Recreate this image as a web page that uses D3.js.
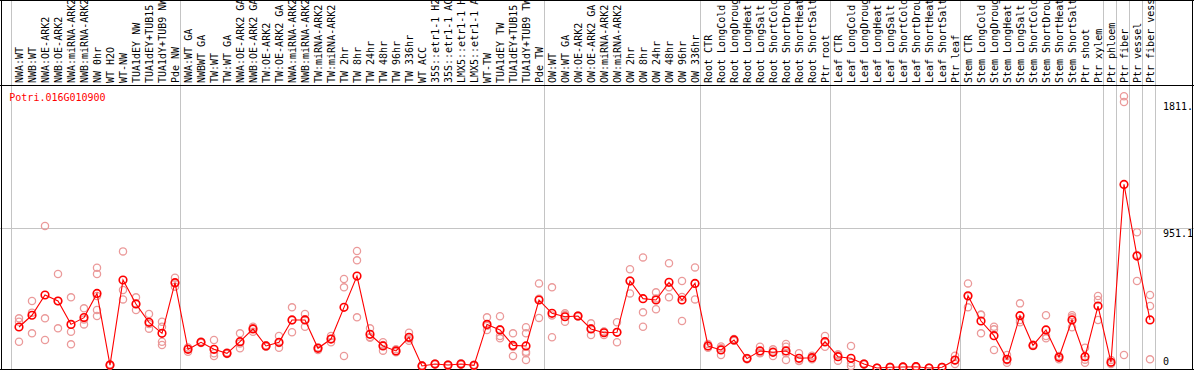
<!DOCTYPE html>
<html>
<head>
<meta charset="utf-8">
<script src="https://cdn.jsdelivr.net/npm/d3@7/dist/d3.min.js"></script>
<style>
html,body{margin:0;padding:0;background:#fff;}
svg{display:block;}
text{font-family:"DejaVu Sans Mono",monospace;font-size:10px;}
</style>
</head>
<body>
<svg id="chart" width="1194" height="370"></svg>
<script>
const geneName = "Potri.016G010900";
const categories = [
 "NWA:WT","NWB:WT","NWA:OE-ARK2","NWB:OE-ARK2","NWA:miRNA-ARK2","NWB:miRNA-ARK2","NW 0hr","WT H2O","WT-NW","TUA1dEY NW","TUA1dEY+TUB15 NW","TUA1dY+TUB9 NW","Pde NW",
 "NWA:WT GA","NWBWT GA","TW:WT","TW:WT GA","NWA:OE-ARK2 GA","NWB:OE-ARK2 GA","TW:OE-ARK2","TW:OE-ARK2 GA","NWA:miRNA-ARK2 GA","NWB:miRNA-ARK2 GA","TW:miRNA-ARK2","TW:miRNA-ARK2 GA","TW 2hr","TW 8hr","TW 24hr","TW 48hr","TW 96hr","TW 336hr","WT ACC","35S::etr1-1 H2O","35S::etr1-1 ACC","LMX5::etr1-1 H2O","LMX5::etr1-1 ACC","WT-TW","TUA1dEY TW","TUA1dEY+TUB15 TW","TUA1dY+TUB9 TW","Pde TW",
 "OW:WT","OW:WT GA","OW:OE-ARK2","OW:OE-ARK2 GA","OW:miRNA-ARK2","OW:miRNA-ARK2 GA","OW 2hr","OW 8hr","OW 24hr","OW 48hr","OW 96hr","OW 336hr",
 "Root CTR","Root LongCold","Root LongDrought","Root LongHeat","Root LongSalt","Root ShortCold","Root ShortDrought","Root ShortHeat","Root ShortSalt","Ptr root",
 "Leaf CTR","Leaf LongCold","Leaf LongDrought","Leaf LongHeat","Leaf LongSalt","Leaf ShortCold","Leaf ShortDrought","Leaf ShortHeat","Leaf ShortSalt","Ptr leaf",
 "Stem CTR","Stem LongCold","Stem LongDrought","Stem LongHeat","Stem LongSalt","Stem ShortCold","Stem ShortDrought","Stem ShortHeat","Stem ShortSalt","Ptr shoot","Ptr xylem",
 "Ptr phloem","Ptr fiber","Ptr vessel","Ptr fiber vessel"
];
const groupBoundaries = [0,13,41,53,63,73,84,85,86,87,88];
const meanValues = [
 279,359,497,456,297,343,508,20,599,436,311,236,581,
 127,175,127,100,179,266,150,175,327,327,134,197,413,626,229,150,116,209,14,27,20,27,18,297,259,154,150,463,
 372,349,354,266,240,243,592,472,463,583,463,576,
 150,123,191,64,116,107,116,66,70,179,
 77,66,27,0,5,7,9,0,5,54,
 492,320,220,59,356,154,259,73,327,77,422,
 39,1250,762,327
];
const replicateValues = [
 [338,315,179],[456,377,236],[967,338,191],[640,456,270],[481,247,161],[406,330,297],[683,640,490,395,354],[15,25,20],[794,531,467],[481,436,395],[368,300,268],[315,281,179,157],[615,554,575],
 [111,140,130],[175,170,180],[191,100,82],[100,95,105],[236,134,167],[281,247,270],[150,145,155],[218,138,170],[413,243,325],[368,281,332],[123,140,139],[218,175,198],[606,549,82],[797,733,345],[270,211,206],[175,118,157],[127,107,114],[240,186,201],[14,10,18],[27,30,24],[20,16,24],[27,32,22],[18,14,22],[345,259,287],[352,218,202,264],[236,82,144],[277,236,111,100,54],[576,341,472],
 [549,209,358],[372,315,360],[354,350,358],[304,224,270],[247,224,249],[311,175,243],[672,508,596],[753,379,281],[515,400,474],[713,549,481],[592,484,320],[685,467,576],
 [164,138,148],[89,134,146],[191,185,197],[64,60,68],[145,100,103],[127,82,112],[164,145,54,101],[100,50,48],[84,59,67],[218,145,174],
 [93,50,88],[150,14,34],[27,24,30],[0,2,0],[3,8,4],[7,5,9],[9,12,6],[0,2,0],[5,3,7],[84,27,51],
 [576,413,487],[361,365,236],[281,263,123],[89,36,52],[440,327,311],[159,150,153],[359,218,202],[82,59,78],[359,277,345],[138,36,57],[490,463,327],
 [54,27,36],[1850,1811,89],[924,592,770],[497,422,59]
];
const yTickValues = [1811.3, 951.1, 0];
const yTickLabels = ["1811.", "951.1", "0"];

const W = 1194, H = 370;
const svg = d3.select("#chart");
svg.append("rect").attr("width",W).attr("height",H).attr("fill","#fff");

const x = d3.scaleBand().domain(d3.range(categories.length)).range([11, 11 + 13*categories.length]).padding(0);
const y = d3.scaleLinear().domain([0, 951.1]).range([368, 228.3]);
const px = i => x(i) + 8;

// grey group lines
svg.append("g").selectAll("line").data(groupBoundaries).join("line")
  .attr("x1", k => Math.round(11 + 13*k) + 0.5)
  .attr("x2", k => Math.round(11 + 13*k) + 0.5)
  .attr("y1", 0).attr("y2", H)
  .attr("stroke", "#c4c4c4").attr("stroke-width", 1);

// horizontal grid at middle tick
svg.append("line").attr("x1",0).attr("x2",W)
  .attr("y1", Math.round(y(951.1))+0.5).attr("y2", Math.round(y(951.1))+0.5)
  .attr("stroke","#c4c4c4").attr("stroke-width",1);

// header labels
svg.append("g").selectAll("text").data(categories).join("text")
  .attr("transform", (d,i) => `translate(${x(i)+11.7},83) rotate(-90)`)
  .attr("fill","#000")
  .text(d => d);

// borders
const b = svg.append("g").attr("stroke","#000").attr("stroke-width",1);
b.append("line").attr("x1",0).attr("x2",W).attr("y1",0.5).attr("y2",0.5);
b.append("line").attr("x1",0).attr("x2",W).attr("y1",85.5).attr("y2",85.5);
b.append("line").attr("x1",0).attr("x2",W).attr("y1",369.5).attr("y2",369.5);
b.append("line").attr("x1",1.5).attr("x2",1.5).attr("y1",0).attr("y2",H);
b.append("line").attr("x1",1192.5).attr("x2",1192.5).attr("y1",0).attr("y2",H);

// gene label
svg.append("text").attr("x",9.3).attr("y",100.7).attr("fill","#f00").text(geneName);

// y labels
svg.append("g").selectAll("text").data(yTickValues).join("text")
  .attr("x",1163)
  .attr("y",(v,i) => i === 2 ? 365 : y(v) + 8.4)
  .attr("fill","#000")
  .text((v,i) => yTickLabels[i]);

// replicate points
const repData = [];
replicateValues.forEach((arr,i) => arr.forEach(v => repData.push({i, v})));
svg.append("g").selectAll("circle").data(repData).join("circle")
  .attr("cx", d => px(d.i)).attr("cy", d => y(d.v)).attr("r", 3.6)
  .attr("fill","none").attr("stroke","#eb9a9a").attr("stroke-width",1.3);

// mean line
const line = d3.line().x((d,i) => px(i)).y(d => y(d));
svg.append("path").datum(meanValues).attr("d", line)
  .attr("fill","none").attr("stroke","#f00").attr("stroke-width",1.1);

// mean points
svg.append("g").selectAll("circle").data(meanValues).join("circle")
  .attr("cx", (d,i) => px(i)).attr("cy", d => y(d)).attr("r", 3.8)
  .attr("fill","none").attr("stroke","#f00").attr("stroke-width",1.6);
</script>
</body>
</html>
